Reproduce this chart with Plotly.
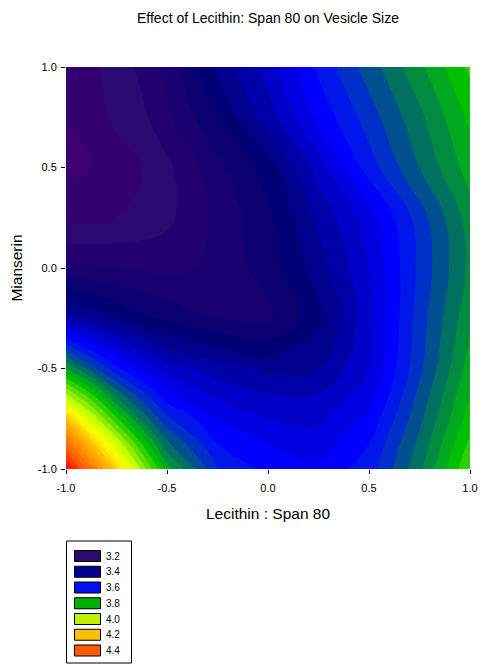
import plotly.graph_objects as go

# Grid coordinates (coded factor levels)
lecithin_span80 = [-1.0, -0.875, -0.75, -0.625, -0.5, -0.25, 0.0, 0.25, 0.5, 0.75, 1.0]
mianserin = [-1.0, -0.875, -0.75, -0.625, -0.5, -0.25, 0.0, 0.25, 0.5, 0.75, 1.0]

# Vesicle size, rows = mianserin (bottom -> top), cols = lecithin:span80
row_m1000 = [4.52, 4.35, 4.17, 3.97, 3.80, 3.62, 3.57, 3.55, 3.60, 3.73, 3.90]
row_m0875 = [4.37, 4.20, 4.02, 3.86, 3.71, 3.58, 3.54, 3.52, 3.58, 3.71, 3.87]
row_m0750 = [4.20, 4.02, 3.87, 3.73, 3.63, 3.54, 3.50, 3.49, 3.55, 3.69, 3.84]
row_m0625 = [3.98, 3.86, 3.72, 3.63, 3.55, 3.49, 3.46, 3.46, 3.52, 3.67, 3.82]
row_m0500 = [3.78, 3.68, 3.59, 3.53, 3.48, 3.44, 3.41, 3.42, 3.50, 3.65, 3.80]
row_m0250 = [3.44, 3.41, 3.38, 3.35, 3.33, 3.30, 3.29, 3.37, 3.49, 3.64, 3.77]
row_p0000 = [3.27, 3.265, 3.26, 3.255, 3.25, 3.27, 3.32, 3.40, 3.50, 3.63, 3.75]
row_p0250 = [3.17, 3.17, 3.18, 3.19, 3.21, 3.27, 3.33, 3.43, 3.52, 3.64, 3.76]
row_p0500 = [3.13, 3.14, 3.16, 3.18, 3.21, 3.29, 3.36, 3.48, 3.60, 3.70, 3.80]
row_p0750 = [3.14, 3.16, 3.19, 3.21, 3.25, 3.34, 3.44, 3.55, 3.64, 3.73, 3.83]
row_p1000 = [3.15, 3.17, 3.20, 3.23, 3.27, 3.39, 3.48, 3.59, 3.68, 3.77, 3.87]
vesicle_size = [row_m1000, row_m0875, row_m0750, row_m0625, row_m0500, row_m0250,
                row_p0000, row_p0250, row_p0500, row_p0750, row_p1000]

# Colour ramp anchors (value, colour)
ramp_values = [3.08, 3.12, 3.16, 3.20, 3.24, 3.28, 3.32, 3.36, 3.40, 3.56, 3.60, 3.64,
               3.68, 3.72, 3.76, 3.80, 3.84, 4.00, 4.10, 4.20, 4.40, 4.52]
ramp_colors = ["#420070", "#3c0070", "#340070", "#2a0a70", "#220070", "#180070",
               "#0c0070", "#000074", "#00008c", "#0000ff", "#0016ea", "#0030c8",
               "#005090", "#007060", "#008c40", "#00aa20", "#00c000", "#c0ff00",
               "#ffff00", "#ffbf00", "#ff5a00", "#ff0000"]

# Legend
legend_levels = [3.2, 3.4, 3.6, 3.8, 4.0, 4.2, 4.4]
legend_colors = ["#2b0a6e", "#00008c", "#0010ee", "#00b000", "#c0f000", "#ffbf00", "#ff5a00"]

tick_vals = [-1.0, -0.5, 0.0, 0.5, 1.0]
tick_text = ["-1.0", "-0.5", "0.0", "0.5", "1.0"]

c_start, c_end, c_size = 3.10, 4.50, 0.04
nc = int(round((c_end - c_start) / c_size)) + 1
lo = c_start - c_size / 2
hi = c_start + nc * c_size - c_size / 2
colorscale = []
for v, c in zip(ramp_values, ramp_colors):
    f = (v - lo) / (hi - lo)
    f = min(max(f, 0.0), 1.0)
    colorscale.append([f, c])
colorscale[0][0] = 0.0
colorscale[-1][0] = 1.0

W, H = 483, 664
ML, MR, MT, MB = 66, 13, 67, 195

fig = go.Figure()
fig.add_trace(go.Contour(
    x=lecithin_span80, y=mianserin, z=vesicle_size,
    colorscale=colorscale, showscale=False,
    contours=dict(start=c_start, end=c_end, size=c_size, coloring="fill", showlines=False),
    line=dict(width=0, smoothing=1.3),
    hoverinfo="skip",
))

font_family = "Arial, 'Liberation Sans', sans-serif"
axis_common = dict(range=[-1, 1], tickvals=tick_vals, ticktext=tick_text,
                   ticks="outside", ticklen=4, tickwidth=1, tickcolor="black",
                   showgrid=False, zeroline=False, showline=False, automargin=False,
                   tickfont=dict(size=11, color="black", family=font_family))
fig.update_xaxes(**axis_common, ticklabelstandoff=5,
                 title=dict(text="Lecithin : Span 80", font=dict(size=15.5, color="black", family=font_family),
                            standoff=14))
fig.update_yaxes(**axis_common, ticklabelstandoff=2,
                 title=dict(text="Mianserin", font=dict(size=15.5, color="black", family=font_family),
                            standoff=11))

shapes = []
annotations = []
pw = W - ML - MR
ph = H - MT - MB


def px_to_paper_x(px):
    return (px - ML) / pw


def px_to_paper_y(py):
    return (H - MB - py) / ph


# legend box
box_l, box_r, box_t, box_b = 66.5, 131.5, 541, 663
shapes.append(dict(type="rect", xref="paper", yref="paper",
                   x0=px_to_paper_x(box_l), x1=px_to_paper_x(box_r),
                   y0=px_to_paper_y(box_b), y1=px_to_paper_y(box_t),
                   line=dict(color="black", width=1), fillcolor="white"))
row_h = 15.75
for i, (lev, col) in enumerate(zip(legend_levels, legend_colors)):
    cy = 556 + i * row_h
    shapes.append(dict(type="rect", xref="paper", yref="paper",
                       x0=px_to_paper_x(74.5), x1=px_to_paper_x(100.5),
                       y0=px_to_paper_y(cy + 5.5), y1=px_to_paper_y(cy - 5.5),
                       line=dict(color="black", width=1), fillcolor=col))
    annotations.append(dict(xref="paper", yref="paper",
                            x=px_to_paper_x(104), y=px_to_paper_y(cy),
                            text=f"{lev:.1f}", showarrow=False, xanchor="left", yanchor="middle",
                            font=dict(size=10, color="black", family=font_family)))

fig.update_layout(
    width=W, height=H,
    margin=dict(l=ML, r=MR, t=MT, b=MB, pad=0, autoexpand=False),
    paper_bgcolor="white", plot_bgcolor="white",
    title=dict(text="Effect of Lecithin: Span 80 on Vesicle Size", x=268 / W,
               xanchor="center", y=1 - 18 / H, yanchor="middle",
               font=dict(size=14, color="black", family=font_family)),
    shapes=shapes, annotations=annotations,
    showlegend=False,
)

fig.write_html("out.html")
